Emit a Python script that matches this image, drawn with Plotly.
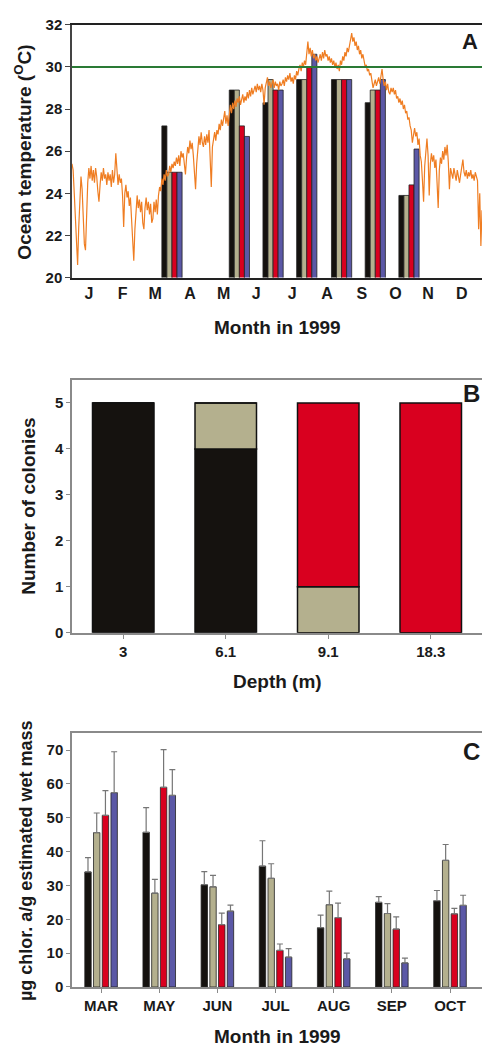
import plotly.graph_objects as go

# ---------------- Panel A data ----------------
month_ticks = ["J", "F", "M", "A", "M", "J", "J", "A", "S", "O", "N", "D"]
month_mid_days = [15, 45, 74, 105, 135, 164, 196, 227, 258, 288, 317, 347]

# daily ocean temperature (deg C), day 0 .. 365
temp_val = [
    25.4, 25.1, 24.0, 22.6, 21.2, 20.6, 22.4, 23.9, 24.8, 24.2,
    22.9, 21.6, 21.3, 23.2, 24.5, 25.2, 24.7, 25.3, 24.6, 25.1,
    24.5, 25.2, 24.8, 24.1, 23.6, 24.4, 25.0, 24.6, 25.2, 24.7,
    24.9, 24.4, 25.0, 24.6, 24.9, 24.3, 25.1, 24.5, 24.9, 25.9,
    25.0, 24.4, 24.9, 24.5, 24.7, 23.9, 22.4, 24.0, 24.4, 23.8,
    24.1, 23.4, 23.8, 22.9, 21.9, 20.8, 22.3, 23.2, 23.9, 23.3,
    23.7, 23.1, 23.6, 22.6, 22.3, 23.3, 23.8, 23.2, 23.6, 23.0,
    23.5, 22.6, 22.8, 23.6, 23.1, 23.7, 23.0, 23.9, 24.3, 24.1,
    24.7, 24.4, 24.9, 24.6, 25.1, 24.8, 24.9, 25.3, 25.0, 25.4,
    25.2, 25.5, 25.3, 25.7, 25.4, 25.8, 25.3, 26.0, 25.7, 25.9,
    25.5, 24.9, 25.7, 26.2, 25.9, 26.5, 26.1, 26.4, 25.8, 25.0,
    24.2, 25.4, 26.2, 26.7, 26.3, 26.9, 26.4, 26.2, 26.7, 26.3,
    26.8, 26.4, 27.0, 25.2, 24.3, 26.2, 26.6, 26.9, 26.5, 27.0,
    26.8, 27.3, 27.0, 27.5, 27.2, 27.6, 27.9, 27.3, 27.7, 27.2,
    27.9, 28.2, 27.8, 28.3, 28.0, 28.4, 28.1, 28.5, 28.3, 28.6,
    28.2, 28.5, 28.7, 28.3, 28.6, 28.4, 28.8, 28.5, 28.9, 28.6,
    29.0, 28.7, 28.9, 29.1, 28.8, 29.2, 28.9, 29.1, 28.8, 29.2,
    28.9, 28.2, 29.0, 29.3, 29.5, 29.1, 29.3, 29.0, 29.2, 29.4,
    29.0, 29.3, 29.1, 29.2, 28.9, 29.3, 29.1, 29.2, 29.4, 29.1,
    29.5, 29.3, 29.6, 29.4, 29.7, 29.3, 29.5, 29.2, 29.6, 29.4,
    29.8, 29.6, 29.9, 30.1, 29.8, 30.2, 30.0, 30.3, 30.1, 30.7,
    31.2, 30.6, 30.9, 30.5, 30.8, 30.4, 30.6, 30.3, 30.5, 30.2,
    30.4, 30.6, 30.3, 30.7, 30.4, 30.8, 30.5, 30.6, 30.3, 30.5,
    30.2, 30.4, 30.1, 30.3, 30.0, 30.2, 29.9, 30.1, 29.8, 30.3,
    30.1, 30.5, 30.3, 30.7, 30.5, 30.9, 30.7, 31.1, 31.3, 31.6,
    31.2, 31.4, 31.0, 31.2, 30.8, 31.0, 30.6, 30.8, 30.4, 30.6,
    30.2, 30.0, 30.1, 29.8, 29.9, 29.6, 29.7, 29.3, 29.0, 29.2,
    29.4, 29.1, 29.3, 29.5, 29.2, 29.6, 29.9, 29.4, 29.1, 29.3,
    28.9, 29.2, 28.8, 28.7, 29.0, 28.8, 29.0, 28.7, 28.9, 28.5,
    28.6, 28.3, 28.5, 28.2, 28.4, 28.0, 28.2, 27.8, 27.9, 27.5,
    27.6, 27.2, 27.0, 26.4, 26.9, 27.1, 26.7, 26.9, 26.3, 26.6,
    25.8, 25.5, 24.6, 23.6, 25.3, 25.9, 26.6, 25.8, 23.9, 25.4,
    25.9, 25.5, 25.8, 25.2, 25.6, 24.5, 23.3, 25.1, 25.7, 25.4,
    26.0, 25.6, 26.2, 25.8, 26.3, 25.5, 24.2, 25.2, 25.0, 24.7,
    25.2, 24.9, 24.6, 25.1, 24.8, 24.5, 24.9, 25.2, 25.6, 25.0,
    24.8, 25.1, 24.7, 25.0, 24.8, 25.1, 24.7, 24.9, 24.6, 25.0,
    24.8, 24.6, 22.3, 24.0, 21.5, 23.2,
]
temp_day = list(range(len(temp_val)))

bleach_threshold = 30.0

# sampling days (day of year) and colony temperatures for the 4 colonies
sample_days = [89, 149, 179, 209, 240, 270, 300]
colony1_temp = [27.2, 28.9, 28.3, 29.4, 29.4, 28.3, 23.9]
colony2_temp = [25.0, 28.9, 29.4, 29.4, 29.4, 28.9, 23.9]
colony3_temp = [25.0, 27.2, 28.9, 30.0, 29.4, 28.9, 24.4]
colony4_temp = [25.0, 26.7, 28.9, 30.6, 29.4, 29.4, 26.1]

# ---------------- Panel B data ----------------
depths = ["3", "6.1", "9.1", "18.3"]
cnt_black = [5, 4, 0, 0]
cnt_tan = [0, 1, 1, 0]
cnt_red = [0, 0, 4, 5]

# ---------------- Panel C data ----------------
months_c = ["MAR", "MAY", "JUN", "JUL", "AUG", "SEP", "OCT"]
chl_black = [34.0, 45.7, 30.2, 35.7, 17.5, 25.0, 25.5]
chl_black_err = [4.2, 7.3, 3.9, 7.5, 3.7, 1.7, 3.0]
chl_tan = [45.6, 27.7, 29.6, 32.1, 24.3, 21.7, 37.4]
chl_tan_err = [5.8, 4.1, 3.4, 4.3, 4.0, 2.9, 4.7]
chl_red = [50.7, 59.0, 18.4, 10.8, 20.5, 17.1, 21.6]
chl_red_err = [7.3, 11.1, 3.4, 1.9, 4.3, 3.6, 1.6]
chl_blue = [57.4, 56.6, 22.4, 8.8, 8.3, 7.1, 24.1]
chl_blue_err = [12.1, 7.6, 1.8, 2.5, 1.7, 1.4, 3.0]

# ---------------- styling ----------------
BLACK = "#15120f"
TAN = "#b4b08e"
RED = "#d9001f"
BLUE = "#5b58a6"
ORANGE = "#ef7d22"
GREEN = "#2a7a35"
TXT = "#1a1a1a"
GRAY = "#8a8a8a"
FONT = "Liberation Sans, Arial, sans-serif"

W, H = 482, 1054


def py(px):
    return 1 - px / H


fig = go.Figure()

# Panel A
fig.add_trace(go.Scatter(x=temp_day, y=temp_val, mode="lines",
                         line=dict(color=ORANGE, width=1.2), xaxis="x", yaxis="y",
                         showlegend=False, hoverinfo="skip"))
for vals, col in [(colony1_temp, BLACK), (colony2_temp, TAN),
                  (colony3_temp, RED), (colony4_temp, BLUE)]:
    fig.add_trace(go.Bar(x=sample_days, y=vals, marker=dict(color=col, line=dict(color="#222", width=0.8)),
                         xaxis="x", yaxis="y", showlegend=False))
fig.add_shape(type="line", xref="x domain", yref="y", x0=0, x1=1,
              y0=bleach_threshold, y1=bleach_threshold, line=dict(color=GREEN, width=2))

# Panel B (stacked via base, same offset group)
base_tan = cnt_black
base_red = [a + b for a, b in zip(cnt_black, cnt_tan)]
for vals, base, col in [(cnt_black, [0] * len(cnt_black), BLACK), (cnt_tan, base_tan, TAN),
                        (cnt_red, base_red, RED)]:
    fig.add_trace(go.Bar(x=depths, y=vals, base=base, offsetgroup="b",
                         marker=dict(color=col, line=dict(color="#111", width=1.5)),
                         xaxis="x2", yaxis="y2", showlegend=False))

# Panel C
for vals, err, col in [(chl_black, chl_black_err, BLACK), (chl_tan, chl_tan_err, TAN),
                       (chl_red, chl_red_err, RED), (chl_blue, chl_blue_err, BLUE)]:
    fig.add_trace(go.Bar(x=months_c, y=vals, width=0.11,
                         marker=dict(color=col, line=dict(color="#222", width=0.8)),
                         error_y=dict(type="data", symmetric=False, array=err,
                                      arrayminus=[0] * len(err), color="#767676",
                                      thickness=1.2, width=3),
                         xaxis="x3", yaxis="y3", showlegend=False))

tickfont = dict(family=FONT, size=15, color=TXT, weight="bold")
xdom = [72 / W, 1.0]

fig.update_layout(
    width=W, height=H, margin=dict(l=0, r=0, t=0, b=0),
    paper_bgcolor="white", plot_bgcolor="white",
    barmode="group", bargap=0.4, bargroupgap=0,
    font=dict(family=FONT, color=TXT),
    xaxis=dict(domain=xdom, anchor="y", range=[0, 365], tickvals=month_mid_days,
               ticktext=month_ticks, ticks="", showgrid=False, zeroline=False,
               showline=True, linecolor="#222", linewidth=1.5, mirror=True,
               tickfont=dict(family=FONT, size=16, color=TXT, weight="bold")),
    yaxis=dict(domain=[py(273), py(16)], anchor="x", range=[20, 32], dtick=2,
               ticks="outside", ticklen=5, tickcolor="#444", showgrid=False, zeroline=False,
               showline=True, linecolor="#444", linewidth=1.5, tickfont=tickfont),
    xaxis2=dict(domain=xdom, anchor="y2", type="category", range=[-0.5, 3.5],
                ticks="outside", ticklen=4, tickcolor=GRAY, showgrid=False, zeroline=False,
                showline=True, linecolor=GRAY, linewidth=1.5, mirror=True, tickfont=tickfont),
    yaxis2=dict(domain=[py(634), py(377)], anchor="x2", range=[0, 5.5], dtick=1,
                ticks="outside", ticklen=4, tickcolor=GRAY, showgrid=False, zeroline=False,
                showline=True, linecolor=GRAY, linewidth=1.5, tickfont=tickfont),
    xaxis3=dict(domain=xdom, anchor="y3", type="category", range=[-0.5, 6.55],
                ticks="outside", ticklen=4, tickcolor=GRAY, showgrid=False, zeroline=False,
                showline=True, linecolor=GRAY, linewidth=1.5, mirror=True, tickfont=tickfont),
    yaxis3=dict(domain=[py(994), py(736)], anchor="x3", range=[0, 75],
                tickvals=[0, 10, 20, 30, 40, 50, 60, 70],
                ticks="outside", ticklen=4, tickcolor=GRAY, showgrid=False, zeroline=False,
                showline=True, linecolor=GRAY, linewidth=1.5, tickfont=tickfont),
)

titlefont = dict(family=FONT, size=19, color=TXT, weight="bold")
ann = [
    ("Ocean temperature (<sup>O</sup>C)", 23, 146, -90, titlefont),
    ("Month in 1999", 277, 324, 0, titlefont),
    ("A", 470, 33, 0, dict(family=FONT, size=22, color=TXT, weight="bold")),
    ("Number of colonies", 29, 506, -90, titlefont),
    ("Depth (m)", 277, 684, 0, titlefont),
    ("B", 471, 391, 0, dict(family=FONT, size=24, color=TXT, weight="bold")),
    ("µg chlor. a/g estimated wet mass", 26, 866, -90,
     dict(family=FONT, size=18, color=TXT, weight="bold")),
    ("Month in 1999", 277, 1044, 0, titlefont),
    ("C", 471, 755, 0, dict(family=FONT, size=24, color=TXT, weight="bold")),
]
for text, x, y, ang, f in ann:
    fig.add_annotation(text=text, x=x / W, y=py(y), xref="paper", yref="paper",
                       xanchor="center", yanchor="middle", textangle=ang,
                       showarrow=False, font=f)

fig.write_html("out.html")
